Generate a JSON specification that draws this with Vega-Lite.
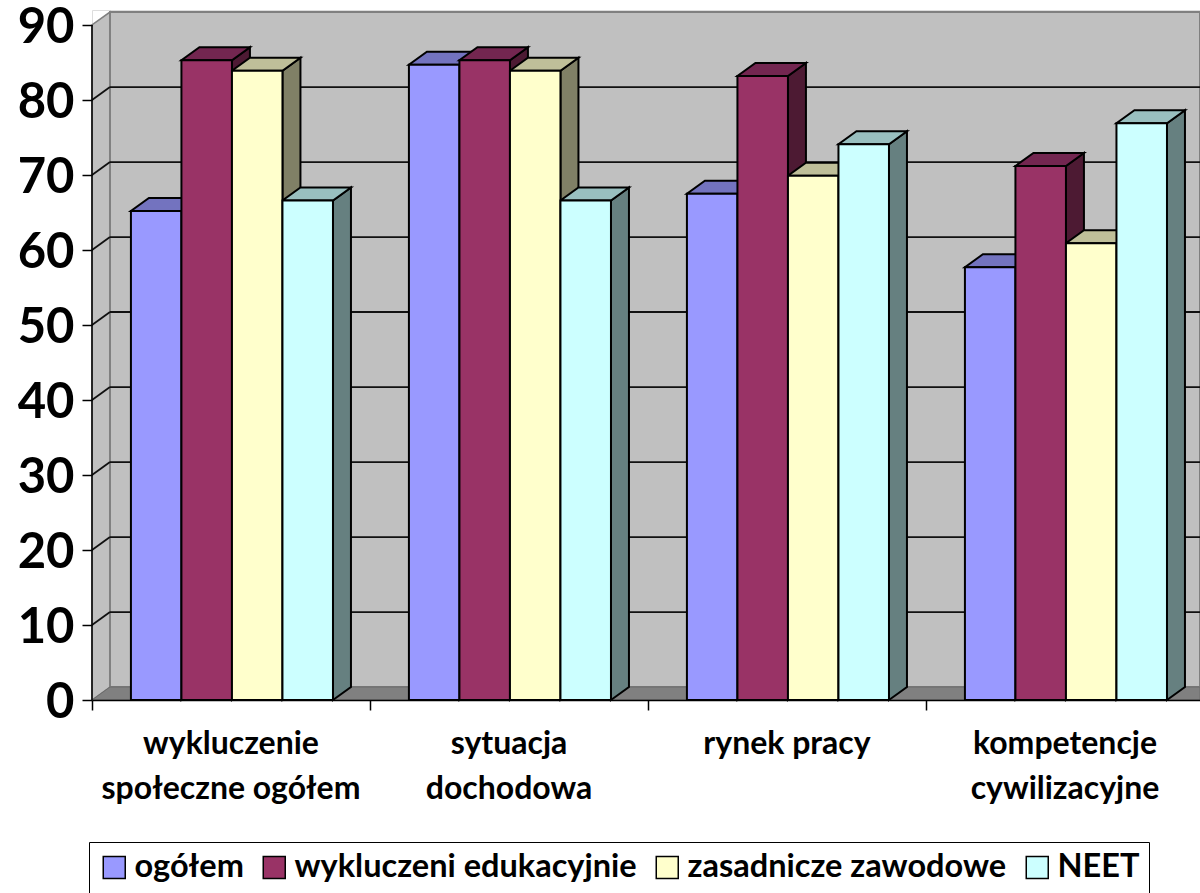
{
"$schema":"https://vega.github.io/schema/vega-lite/v6.json",
"width":1108,"height":690,
"autosize":"none",
"padding":{"left":92,"top":10,"right":0,"bottom":193},
"background":"white",
"datasets":{
"bars":[
{"kategoria":"wykluczenie społeczne ogółem","seria":"ogółem","wartosc":65.2},
{"kategoria":"wykluczenie społeczne ogółem","seria":"wykluczeni edukacyjnie","wartosc":85.3},
{"kategoria":"wykluczenie społeczne ogółem","seria":"zasadnicze zawodowe","wartosc":83.9},
{"kategoria":"wykluczenie społeczne ogółem","seria":"NEET","wartosc":66.6},
{"kategoria":"sytuacja dochodowa","seria":"ogółem","wartosc":84.7},
{"kategoria":"sytuacja dochodowa","seria":"wykluczeni edukacyjnie","wartosc":85.3},
{"kategoria":"sytuacja dochodowa","seria":"zasadnicze zawodowe","wartosc":83.9},
{"kategoria":"sytuacja dochodowa","seria":"NEET","wartosc":66.6},
{"kategoria":"rynek pracy","seria":"ogółem","wartosc":67.5},
{"kategoria":"rynek pracy","seria":"wykluczeni edukacyjnie","wartosc":83.2},
{"kategoria":"rynek pracy","seria":"zasadnicze zawodowe","wartosc":69.9},
{"kategoria":"rynek pracy","seria":"NEET","wartosc":74.1},
{"kategoria":"kompetencje cywilizacyjne","seria":"ogółem","wartosc":57.7},
{"kategoria":"kompetencje cywilizacyjne","seria":"wykluczeni edukacyjnie","wartosc":71.2},
{"kategoria":"kompetencje cywilizacyjne","seria":"zasadnicze zawodowe","wartosc":60.9},
{"kategoria":"kompetencje cywilizacyjne","seria":"NEET","wartosc":76.9}
],
"labels":[
{"etykieta":"wykluczenie\nspołeczne ogółem","nr":0},
{"etykieta":"sytuacja\ndochodowa","nr":1},
{"etykieta":"rynek pracy","nr":2},
{"etykieta":"kompetencje\ncywilizacyjne","nr":3}
],
"grid":[{"v":10},{"v":20},{"v":30},{"v":40},{"v":50},{"v":60},{"v":70},{"v":80}]
},
"encoding":{
"x":{"field":"x","type":"quantitative","scale":{"domain":[0,3.9856],"nice":false,"zero":false},
"axis":{"title":null,"values":[0,1,2,3],"labels":false,"grid":false,"domainColor":"black","domainWidth":1.5,"tickColor":"black","tickWidth":1.5,"tickSize":10,"zindex":1}},
"y":{"field":"y","type":"quantitative","scale":{"domain":[0,92],"nice":false,"zero":false},
"axis":{"title":null,"values":[0,10,20,30,40,50,60,70,80,90],"domain":false,"grid":false,"tickColor":"black","tickWidth":1.5,"tickSize":10,"labelFont":"Lato","labelFontWeight":"bold","labelFontSize":49,"labelColor":"black","labelPadding":8,"labelOffset":2,"zindex":1}}
},
"layer":[
{"data":{"values":[{"k":0},{"k":1}]},
"transform":[{"calculate":"datum.k*0.0647","as":"x"},{"calculate":"datum.k*1.73","as":"y"},{"calculate":"90+datum.k*1.73","as":"y2"}],
"mark":{"type":"area","fill":"#C0C0C0","stroke":"#808080","strokeWidth":1.5},
"encoding":{"y2":{"field":"y2"}}},
{"data":{"values":[{"k":0}]},
"transform":[{"calculate":"0.0647","as":"x"},{"calculate":"3.9856","as":"x2"},{"calculate":"1.73","as":"y"},{"calculate":"91.73","as":"y2"}],
"mark":{"type":"rect","fill":"#C0C0C0","stroke":"#808080","strokeWidth":2},
"encoding":{"x2":{"field":"x2"},"y2":{"field":"y2"}}},
{"data":{"values":[{"k":0},{"k":1},{"k":2}]},
"transform":[{"calculate":"datum.k==0?0:datum.k==1?0.0647:3.9856","as":"x"},{"calculate":"0","as":"y"},{"calculate":"datum.k==0?0:1.73","as":"y2"}],
"mark":{"type":"area","fill":"#808080","stroke":"#6a6a6a","strokeWidth":1},
"encoding":{"y2":{"field":"y2"}}},
{"data":{"name":"grid"},
"transform":[{"calculate":"0.0647","as":"x"},{"calculate":"3.9856","as":"x2"},{"calculate":"datum.v+1.73","as":"y"}],
"mark":{"type":"rule","stroke":"#111111","strokeWidth":1.8},
"encoding":{"x2":{"field":"x2"}}},
{"data":{"name":"grid"},
"transform":[{"calculate":"0","as":"x"},{"calculate":"0.0647","as":"x2"},{"calculate":"datum.v","as":"y"},{"calculate":"datum.v+1.73","as":"y2"}],
"mark":{"type":"rule","stroke":"#111111","strokeWidth":1.8},
"encoding":{"x2":{"field":"x2"},"y2":{"field":"y2"}}},
{"data":{"name":"bars"},
"transform":[
{"calculate":"indexof(['wykluczenie społeczne ogółem','sytuacja dochodowa','rynek pracy','kompetencje cywilizacyjne'],datum.kategoria)","as":"kat"},
{"calculate":"indexof(['ogółem','wykluczeni edukacyjnie','zasadnicze zawodowe','NEET'],datum.seria)","as":"ser"},
{"calculate":"[0,1]","as":"pts"},{"flatten":["pts"]},
{"calculate":"datum.kat+0.14+(datum.ser+1)*0.1817+datum.pts*0.0647","as":"x"},
{"calculate":"datum.pts*1.73","as":"y"},
{"calculate":"datum.wartosc+datum.pts*1.73","as":"y2"},
{"calculate":"datum.kat+'-'+datum.ser","as":"id"}],
"mark":{"type":"area","stroke":"black","strokeWidth":2},
"encoding":{"y2":{"field":"y2"},"detail":{"field":"id"},
"color":{"field":"seria","type":"nominal","legend":null,"scale":{"domain":["ogółem","wykluczeni edukacyjnie","zasadnicze zawodowe","NEET"],"range":["#4D4D80","#4D1A33","#808066","#668080"]}}}},
{"data":{"name":"bars"},
"transform":[
{"calculate":"indexof(['wykluczenie społeczne ogółem','sytuacja dochodowa','rynek pracy','kompetencje cywilizacyjne'],datum.kategoria)","as":"kat"},
{"calculate":"indexof(['ogółem','wykluczeni edukacyjnie','zasadnicze zawodowe','NEET'],datum.seria)","as":"ser"},
{"calculate":"[0,1,2,3]","as":"pts"},{"flatten":["pts"]},
{"calculate":"datum.kat+0.14+datum.ser*0.1817+(datum.pts==0?0:datum.pts==1?0.0647:datum.pts==2?0.1817:0.2464)","as":"x"},
{"calculate":"datum.wartosc+(datum.pts==3?1.73:0)","as":"y"},
{"calculate":"datum.wartosc+(datum.pts==0?0:1.73)","as":"y2"},
{"calculate":"datum.kat+'-'+datum.ser","as":"id"}],
"mark":{"type":"area","stroke":"black","strokeWidth":2},
"encoding":{"y2":{"field":"y2"},"detail":{"field":"id"},
"color":{"field":"seria","type":"nominal","legend":null,"scale":{"domain":["ogółem","wykluczeni edukacyjnie","zasadnicze zawodowe","NEET"],"range":["#7373BF","#732650","#BFBF99","#99BFBF"]}}}},
{"data":{"name":"bars"},
"transform":[
{"calculate":"indexof(['wykluczenie społeczne ogółem','sytuacja dochodowa','rynek pracy','kompetencje cywilizacyjne'],datum.kategoria)","as":"kat"},
{"calculate":"indexof(['ogółem','wykluczeni edukacyjnie','zasadnicze zawodowe','NEET'],datum.seria)","as":"ser"},
{"calculate":"datum.kat+0.14+datum.ser*0.1817","as":"x"},
{"calculate":"datum.x+0.1817","as":"x2"},
{"calculate":"datum.wartosc","as":"y"},
{"calculate":"0","as":"y2"}],
"mark":{"type":"rect","stroke":"black","strokeWidth":2},
"encoding":{"x2":{"field":"x2"},"y2":{"field":"y2"},
"color":{"field":"seria","type":"nominal","scale":{"domain":["ogółem","wykluczeni edukacyjnie","zasadnicze zawodowe","NEET"],"range":["#9999FF","#993366","#FFFFCC","#CCFFFF"]},
"legend":{"title":null,"orient":"none","legendX":-3,"legendY":832,"columns":4,"symbolType":"square","symbolSize":484,"symbolStrokeColor":"black","symbolStrokeWidth":1.5,"symbolOpacity":1,"labelFont":"Lato","labelFontWeight":"bold","labelFontSize":32.5,"labelColor":"black","labelOffset":4,"labelLimit":500,"columnPadding":14,"padding":9,"strokeColor":"black","fillColor":"white"}}}},
{"data":{"name":"labels"},
"transform":[{"calculate":"datum.nr+0.5","as":"x"},{"calculate":"0","as":"y"}],
"mark":{"type":"text","font":"Lato","fontWeight":"bold","fontSize":32,"color":"black","align":"center","baseline":"top","lineBreak":"\n","lineHeight":45,"dy":29,"clip":false},
"encoding":{"text":{"field":"etykieta"}}},
{"data":{"values":[{"k":0}]},
"transform":[{"calculate":"0","as":"x"},{"calculate":"0","as":"y"},{"calculate":"90","as":"y2"}],
"mark":{"type":"rule","stroke":"black","strokeWidth":1.5},
"encoding":{"y2":{"field":"y2"}}}
],
"resolve":{"scale":{"color":"independent"}}
}
